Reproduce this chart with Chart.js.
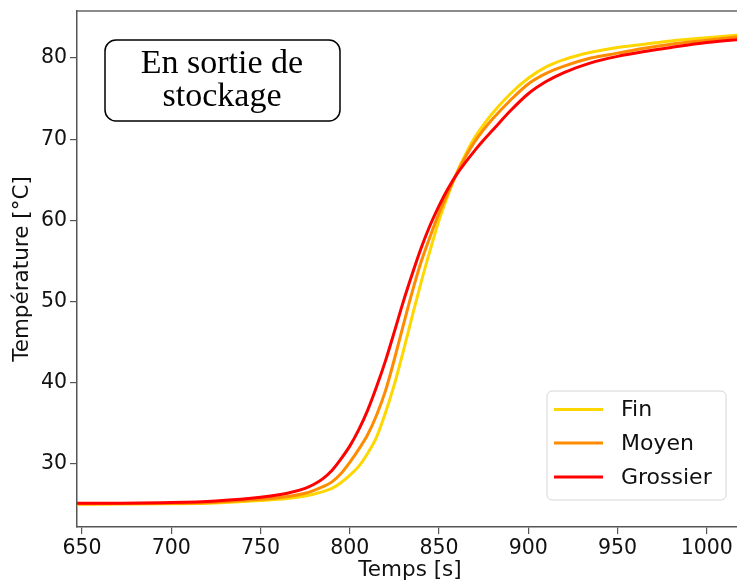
<!DOCTYPE html>
<html>
<head>
<meta charset="utf-8">
<script src="https://cdn.jsdelivr.net/npm/chart.js@4.4.1/dist/chart.umd.min.js"></script>
<style>
  html, body { margin: 0; padding: 0; background: #fff; overflow: hidden; }
  #wrap { width: 737px; height: 583px; overflow: hidden; position: relative; }
  #box { width: 745px; height: 583px; }
</style>
</head>
<body>
<div id="wrap"><div id="box"><canvas id="myChart"></canvas></div></div>
<script>
// temps [s]
let times = [640, 650, 700, 725, 750, 765, 775, 780, 785, 790, 795, 800, 805, 810, 815, 820, 825, 830, 835, 840, 845,
             850, 855, 860, 865, 870, 875, 880, 890, 900, 910, 920, 935, 950, 965, 980, 1000, 1025];
let fin = [25.05, 25.05, 25.1, 25.2, 25.5, 25.75, 26.05, 26.3, 26.6, 27.0, 27.7, 28.6, 29.7, 31.3, 33.3, 36.3, 39.8, 43.9, 48.2, 52.4, 56.3,
           60.0, 63.1, 65.9, 68.2, 70.2, 71.8, 73.2, 75.6, 77.5, 78.9, 79.8, 80.7, 81.3, 81.7, 82.1, 82.5, 82.95];
let moyen = [25.1, 25.1, 25.15, 25.3, 25.65, 26.0, 26.4, 26.75, 27.2, 27.8, 28.8, 30.2, 31.8, 33.6, 36.0, 39.0, 42.9, 47.1, 51.2, 54.9, 58.0,
             60.9, 63.4, 65.8, 67.9, 69.7, 71.2, 72.5, 74.8, 76.8, 78.1, 79.0, 80.0, 80.6, 81.2, 81.7, 82.2, 82.8];
let grossier = [25.15, 25.15, 25.25, 25.45, 25.9, 26.4, 27.0, 27.5, 28.2, 29.2, 30.6, 32.2, 34.2, 36.6, 39.5, 42.7, 46.3, 50.0, 53.4, 56.6, 59.4,
                61.8, 63.9, 65.7, 67.2, 68.6, 69.9, 71.1, 73.5, 75.6, 77.1, 78.2, 79.4, 80.2, 80.8, 81.3, 81.9, 82.4];
let seriesNames = ['Fin', 'Moyen', 'Grossier'];
let seriesColors = ['#ffd700', '#ff8c00', '#ff0000'];
let boxLines = ['En sortie de', 'stockage'];

function pts(vals) {
    return times.map((t, i) => ({ x: t, y: vals[i] }));
}

// cadre du haut, annotation et légende
let extras = {
    id: 'extras',
    afterDraw(chart) {
        let c = chart.ctx;
        let a = chart.chartArea;
        c.save();
        c.strokeStyle = '#666';
        c.lineWidth = 1.5;
        c.beginPath();
        c.moveTo(a.left, a.top);
        c.lineTo(a.right, a.top);
        c.stroke();

        // boite de texte
        c.fillStyle = '#fff';
        c.strokeStyle = '#000';
        c.lineWidth = 1.5;
        c.beginPath();
        c.roundRect(105, 40, 235, 81, 11);
        c.fill();
        c.stroke();
        c.fillStyle = '#000';
        c.font = '34px "Liberation Serif"';
        c.textAlign = 'center';
        c.textBaseline = 'alphabetic';
        c.fillText(boxLines[0], 222, 73);
        c.fillText(boxLines[1], 222, 106);

        // légende
        c.fillStyle = 'rgba(255,255,255,0.8)';
        c.strokeStyle = '#d6d6d6';
        c.lineWidth = 1;
        c.beginPath();
        c.roundRect(547, 391, 179, 109, 5);
        c.fill();
        c.stroke();
        c.font = '22px "DejaVu Sans"';
        c.textAlign = 'left';
        c.textBaseline = 'middle';
        let rows = [409.5, 443, 477];
        chart.data.datasets.forEach((ds, i) => {
            c.strokeStyle = ds.borderColor;
            c.lineWidth = 3;
            c.beginPath();
            c.moveTo(554, rows[i]);
            c.lineTo(603, rows[i]);
            c.stroke();
            c.fillStyle = '#111';
            c.fillText(ds.label, 621, rows[i] + 1);
        });
        c.restore();
    }
};

let ctx = document.getElementById('myChart').getContext('2d');
let myChart = new Chart(ctx, {
    type: 'line',
    data: {
        datasets: [
            { label: seriesNames[0], data: pts(fin), borderColor: seriesColors[0], order: 3 },
            { label: seriesNames[1], data: pts(moyen), borderColor: seriesColors[1], order: 2 },
            { label: seriesNames[2], data: pts(grossier), borderColor: seriesColors[2], order: 1 }
        ]
    },
    options: {
        responsive: true,
        maintainAspectRatio: false,
        animation: false,
        layout: { padding: { top: 11, right: 2, left: 0, bottom: 0 } },
        datasets: {
            line: {
                borderWidth: 3,
                pointRadius: 0,
                fill: false,
                cubicInterpolationMode: 'monotone'
            }
        },
        plugins: {
            legend: { display: false },
            tooltip: { enabled: false }
        },
        scales: {
            x: {
                type: 'linear',
                min: 647.2,
                max: 1020.3,
                afterFit(scale) { scale.height = 56; scale.paddingLeft = 0; scale.paddingRight = 0; },
                border: { color: '#555', width: 1.5 },
                grid: { display: true, drawOnChartArea: false, tickLength: 7, color: '#555', lineWidth: 1.2 },
                ticks: {
                    stepSize: 50,
                    includeBounds: false,
                    autoSkip: false,
                    maxRotation: 0,
                    padding: 2,
                    color: '#111',
                    font: { family: 'DejaVu Sans', size: 20.5 },
                    callback: v => String(v)
                },
                title: {
                    display: true,
                    text: 'Temps [s]',
                    color: '#111',
                    padding: { top: 0, bottom: 0 },
                    font: { family: 'DejaVu Sans', size: 21.5 }
                }
            },
            y: {
                min: 22.24,
                max: 85.79,
                afterFit(scale) { scale.width = 77; scale.paddingTop = 0; scale.paddingBottom = 0; },
                border: { color: '#555', width: 1.5 },
                grid: { display: true, drawOnChartArea: false, tickLength: 7, color: '#555', lineWidth: 1.2 },
                ticks: {
                    stepSize: 10,
                    includeBounds: false,
                    padding: 3,
                    color: '#111',
                    font: { family: 'DejaVu Sans', size: 20.5 },
                    callback: v => String(v)
                },
                title: {
                    display: true,
                    text: 'Température [°C]',
                    color: '#111',
                    padding: { top: 10, bottom: 0 },
                    font: { family: 'DejaVu Sans', size: 21.5 }
                }
            }
        }
    },
    plugins: [extras]
});
</script>
</body>
</html>
